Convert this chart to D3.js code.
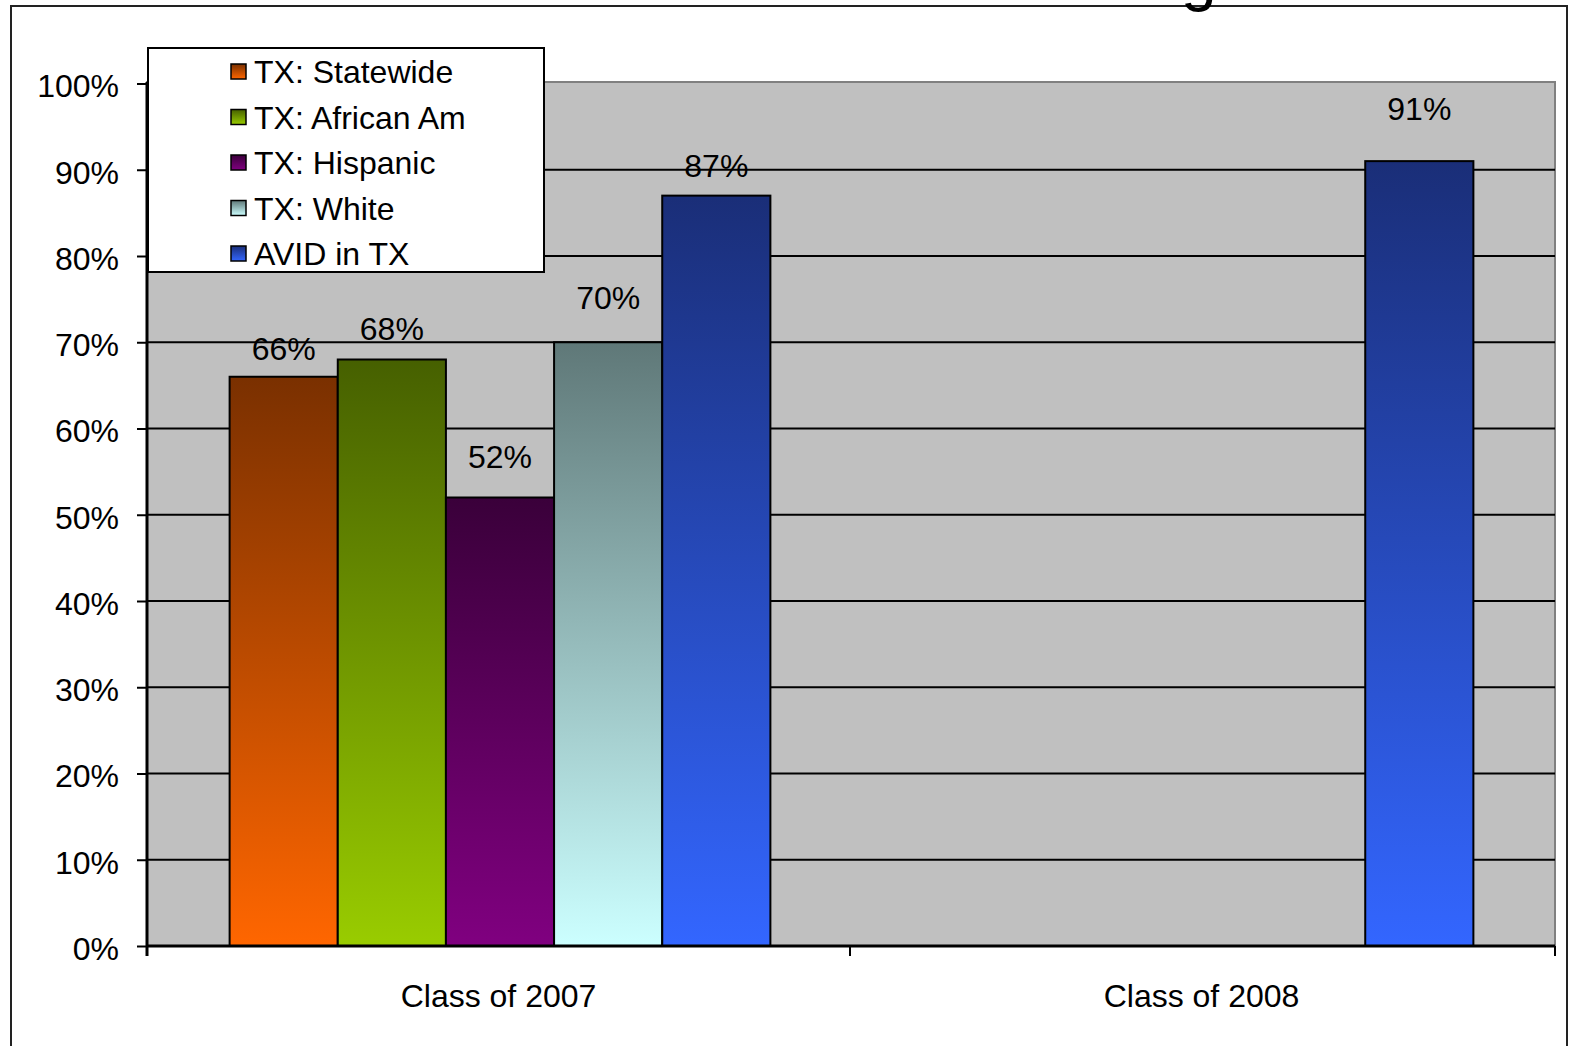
<!DOCTYPE html>
<html>
<head>
<meta charset="utf-8">
<script src="https://cdn.jsdelivr.net/npm/d3@7/dist/d3.min.js"></script>
<style>
  html, body { margin: 0; padding: 0; background: #fff; }
  svg { display: block; font-family: "Liberation Sans", Arial, sans-serif; }
</style>
</head>
<body>
<svg id="chart" width="1569" height="1046"></svg>
<script>
// ---- data ----
const categories = ["Class of 2007", "Class of 2008"];
const seriesNames = ["TX: Statewide", "TX: African Am", "TX: Hispanic", "TX: White", "AVID in TX"];
const statewide  = [66, null];
const africanAm  = [68, null];
const hispanic   = [52, null];
const white      = [70, null];
const avid       = [87, 91];
const yTicks = [0, 10, 20, 30, 40, 50, 60, 70, 80, 90, 100];

// ---- styles ----
const seriesValues = [statewide, africanAm, hispanic, white, avid];
const colorTop = ["#7a3000", "#466000", "#3a003a", "#5f7878", "#1a2e78"];
const colorBot = ["#ff6600", "#99cc00", "#800080", "#ccffff", "#3366ff"];
// manual label lift (px above bar top), per series per category
const labelLift = [[17, 0], [20, 0], [30, 0], [33, 0], [19, 41]];
const FS = 32;

const svg = d3.select("#chart");
const plot = { left: 147, right: 1553, top: 83.5, bottom: 946 };

// gradients
const defs = svg.append("defs");
seriesNames.forEach((s, i) => {
  const g = defs.append("linearGradient")
    .attr("id", "grad" + i)
    .attr("x1", 0).attr("y1", 0).attr("x2", 0).attr("y2", 1);
  g.append("stop").attr("offset", "0%").attr("stop-color", colorTop[i]);
  g.append("stop").attr("offset", "100%").attr("stop-color", colorBot[i]);
});

// outer frame
svg.append("rect").attr("x", 11).attr("y", 6).attr("width", 1556).attr("height", 1060)
  .attr("fill", "#fff").attr("stroke", "#222").attr("stroke-width", 2);

// clipped title descender
svg.append("text").attr("x", 1181).attr("y", -1)
  .attr("font-size", 64).attr("fill", "#000").text("g");

// scales
const x0 = d3.scaleBand().domain(categories).range([plot.left, plot.right]).padding(0);
const x1 = d3.scaleBand().domain(d3.range(seriesNames.length))
  .range([1.5, x0.bandwidth() + 1.5]).paddingInner(0).paddingOuter(0.75);
const y = d3.scaleLinear().domain([0, 100]).range([plot.bottom, plot.top]);

// plot area
svg.append("rect").attr("x", plot.left).attr("y", 82)
  .attr("width", plot.right + 2 - plot.left).attr("height", plot.bottom - 82)
  .attr("fill", "#c0c0c0").attr("stroke", "#808080").attr("stroke-width", 2);

// gridlines
svg.append("g").selectAll("line").data(yTicks.filter(t => t > 0 && t < 100)).join("line")
  .attr("x1", plot.left).attr("x2", plot.right + 2)
  .attr("y1", d => y(d)).attr("y2", d => y(d))
  .attr("stroke", "#000").attr("stroke-width", 2);

// bars
const flat = [];
categories.forEach((c, ci) => {
  seriesValues.forEach((vals, si) => {
    if (vals[ci] != null) flat.push({ c, ci, si, v: vals[ci] });
  });
});
svg.append("g").selectAll("rect").data(flat).join("rect")
  .attr("x", d => x0(d.c) + x1(d.si))
  .attr("y", d => y(d.v))
  .attr("width", x1.bandwidth())
  .attr("height", d => y(0) - y(d.v))
  .attr("fill", d => `url(#grad${d.si})`)
  .attr("stroke", "#000").attr("stroke-width", 2);

// data labels
svg.append("g").selectAll("text").data(flat).join("text")
  .attr("x", d => x0(d.c) + x1(d.si) + x1.bandwidth() / 2)
  .attr("y", d => y(d.v) - labelLift[d.si][d.ci])
  .attr("text-anchor", "middle").attr("font-size", FS).attr("fill", "#000")
  .text(d => d.v + "%");

// y axis
const yAxis = d3.axisLeft(y).tickValues(yTicks).tickFormat(d => d + "%").tickSize(10).tickPadding(18);
const gy = svg.append("g").attr("transform", `translate(${plot.left},0)`).call(yAxis);
gy.select(".domain").remove();
gy.selectAll(".tick line").attr("stroke", "#000").attr("stroke-width", 2);
gy.selectAll(".tick text").attr("font-size", FS).attr("fill", "#000")
  .attr("font-family", "Liberation Sans, Arial, sans-serif").attr("dy", "0.67em")
  .attr("transform", "translate(0,-8)");
svg.append("line").attr("x1", plot.left).attr("x2", plot.left)
  .attr("y1", 82).attr("y2", plot.bottom + 10)
  .attr("stroke", "#000").attr("stroke-width", 3);

// x axis
svg.append("line").attr("x1", plot.left).attr("x2", plot.right + 2)
  .attr("y1", plot.bottom).attr("y2", plot.bottom)
  .attr("stroke", "#000").attr("stroke-width", 3);
const boundaries = categories.map(c => x0(c)).concat([plot.right + 2]);
svg.append("g").selectAll("line").data(boundaries).join("line")
  .attr("x1", d => d).attr("x2", d => d)
  .attr("y1", plot.bottom).attr("y2", plot.bottom + 10)
  .attr("stroke", "#000").attr("stroke-width", 2);
svg.append("g").selectAll("text").data(categories).join("text")
  .attr("x", d => x0(d) + x0.bandwidth() / 2)
  .attr("y", 1007)
  .attr("text-anchor", "middle").attr("font-size", FS).attr("fill", "#000")
  .text(d => d);

// legend
const lg = svg.append("g");
lg.append("rect").attr("x", 148).attr("y", 48).attr("width", 396).attr("height", 224)
  .attr("fill", "#fff").attr("stroke", "#000").attr("stroke-width", 2);
const rowY = d3.scaleLinear().domain([0, 4]).range([72, 254]);
const items = lg.selectAll("g.item").data(seriesNames).join("g").attr("class", "item")
  .attr("transform", (d, i) => `translate(0,${rowY(i)})`);
items.append("rect").attr("x", 231).attr("y", -8).attr("width", 15).attr("height", 15)
  .attr("fill", (d, i) => `url(#grad${i})`).attr("stroke", "#000").attr("stroke-width", 1.5);
items.append("text").attr("x", 254).attr("y", 11)
  .attr("font-size", FS).attr("fill", "#000").text(d => d);
</script>
</body>
</html>
